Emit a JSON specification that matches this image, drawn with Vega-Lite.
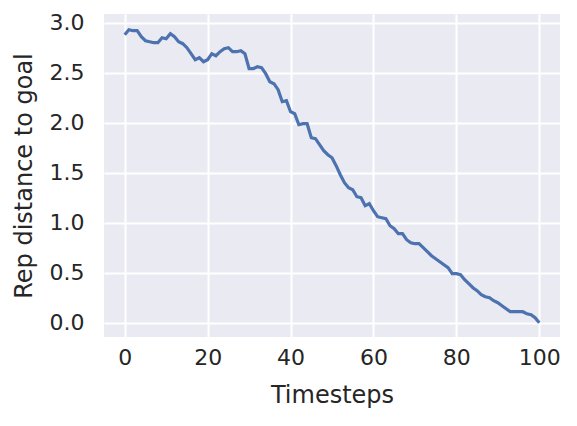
{
  "$schema": "https://vega.github.io/schema/vega-lite/v6.json",
  "width": 456,
  "height": 323,
  "autosize": {"type": "none"},
  "padding": {"left": 104, "top": 14, "right": 17, "bottom": 89},
  "background": "white",
  "config": {
    "view": {"fill": "#EAEAF2", "stroke": null},
    "font": "DejaVu Sans",
    "axis": {
      "domain": false,
      "ticks": false,
      "grid": true,
      "gridColor": "white",
      "gridWidth": 2,
      "labelFont": "DejaVu Sans",
      "labelFontSize": 22,
      "labelColor": "#262626",
      "titleFont": "DejaVu Sans",
      "titleFontSize": 24,
      "titleFontWeight": "normal",
      "titleColor": "#262626"
    }
  },
  "data": {
    "values": [
      {"t": 0, "d": 2.88}, {"t": 1, "d": 2.93}, {"t": 2, "d": 2.92}, {"t": 3, "d": 2.92}, {"t": 4, "d": 2.86},
      {"t": 5, "d": 2.82}, {"t": 6, "d": 2.81}, {"t": 7, "d": 2.80}, {"t": 8, "d": 2.80}, {"t": 9, "d": 2.85},
      {"t": 10, "d": 2.84}, {"t": 11, "d": 2.89}, {"t": 12, "d": 2.86}, {"t": 13, "d": 2.81}, {"t": 14, "d": 2.79},
      {"t": 15, "d": 2.75}, {"t": 16, "d": 2.69}, {"t": 17, "d": 2.63}, {"t": 18, "d": 2.65}, {"t": 19, "d": 2.61},
      {"t": 20, "d": 2.63}, {"t": 21, "d": 2.69}, {"t": 22, "d": 2.67}, {"t": 23, "d": 2.71}, {"t": 24, "d": 2.74},
      {"t": 25, "d": 2.75}, {"t": 26, "d": 2.71}, {"t": 27, "d": 2.71}, {"t": 28, "d": 2.72}, {"t": 29, "d": 2.69},
      {"t": 30, "d": 2.54}, {"t": 31, "d": 2.54}, {"t": 32, "d": 2.56}, {"t": 33, "d": 2.55}, {"t": 34, "d": 2.49},
      {"t": 35, "d": 2.41}, {"t": 36, "d": 2.39}, {"t": 37, "d": 2.33}, {"t": 38, "d": 2.21}, {"t": 39, "d": 2.22},
      {"t": 40, "d": 2.11}, {"t": 41, "d": 2.09}, {"t": 42, "d": 1.98}, {"t": 43, "d": 1.99}, {"t": 44, "d": 1.99},
      {"t": 45, "d": 1.85}, {"t": 46, "d": 1.84}, {"t": 47, "d": 1.78}, {"t": 48, "d": 1.72}, {"t": 49, "d": 1.68},
      {"t": 50, "d": 1.65}, {"t": 51, "d": 1.57}, {"t": 52, "d": 1.48}, {"t": 53, "d": 1.40}, {"t": 54, "d": 1.35},
      {"t": 55, "d": 1.33}, {"t": 56, "d": 1.26}, {"t": 57, "d": 1.25}, {"t": 58, "d": 1.17}, {"t": 59, "d": 1.19},
      {"t": 60, "d": 1.12}, {"t": 61, "d": 1.06}, {"t": 62, "d": 1.05}, {"t": 63, "d": 1.04}, {"t": 64, "d": 0.97},
      {"t": 65, "d": 0.94}, {"t": 66, "d": 0.89}, {"t": 67, "d": 0.89}, {"t": 68, "d": 0.83}, {"t": 69, "d": 0.80},
      {"t": 70, "d": 0.79}, {"t": 71, "d": 0.79}, {"t": 72, "d": 0.75}, {"t": 73, "d": 0.71}, {"t": 74, "d": 0.67},
      {"t": 75, "d": 0.64}, {"t": 76, "d": 0.61}, {"t": 77, "d": 0.58}, {"t": 78, "d": 0.55}, {"t": 79, "d": 0.49},
      {"t": 80, "d": 0.49}, {"t": 81, "d": 0.48}, {"t": 82, "d": 0.43}, {"t": 83, "d": 0.39}, {"t": 84, "d": 0.35},
      {"t": 85, "d": 0.32}, {"t": 86, "d": 0.28}, {"t": 87, "d": 0.26}, {"t": 88, "d": 0.25}, {"t": 89, "d": 0.22},
      {"t": 90, "d": 0.20}, {"t": 91, "d": 0.17}, {"t": 92, "d": 0.14}, {"t": 93, "d": 0.11}, {"t": 94, "d": 0.11},
      {"t": 95, "d": 0.11}, {"t": 96, "d": 0.11}, {"t": 97, "d": 0.09}, {"t": 98, "d": 0.08}, {"t": 99, "d": 0.05},
      {"t": 100, "d": 0.00}
    ]
  },
  "mark": {"type": "line", "color": "#4C72B0", "strokeWidth": 3.2, "clip": true},
  "encoding": {
    "x": {
      "field": "t",
      "type": "quantitative",
      "scale": {"domain": [-5, 105], "nice": false, "zero": false},
      "axis": {"title": "Timesteps", "values": [0, 20, 40, 60, 80, 100], "labelPadding": 10, "titlePadding": 15, "labelFlush": false}
    },
    "y": {
      "field": "d",
      "type": "quantitative",
      "scale": {"domain": [-0.143, 3.087], "nice": false, "zero": false},
      "axis": {"title": "Rep distance to goal", "values": [0, 0.5, 1, 1.5, 2, 2.5, 3], "format": ".1f", "labelPadding": 20, "titlePadding": 13, "labelFlush": false}
    }
  }
}
